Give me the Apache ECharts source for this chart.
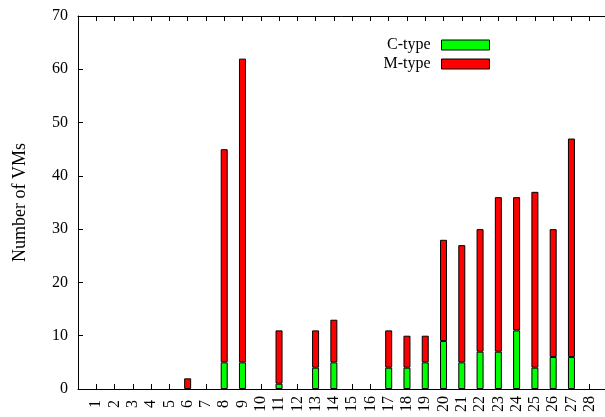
<!DOCTYPE html>
<html>
<head>
<meta charset="utf-8">
<script src="https://cdn.jsdelivr.net/npm/echarts@6/dist/echarts.min.js"></script>
<style>html,body{margin:0;padding:0;background:#fff;}#c{width:605px;height:417px;}</style>
</head>
<body>
<div id="c"></div>
<script>
var categories = ['1','2','3','4','5','6','7','8','9','10','11','12','13','14','15','16','17','18','19','20','21','22','23','24','25','26','27','28'];
var cType = [0,0,0,0,0,0,0,5,5,0,1,0,4,5,0,0,4,4,5,9,5,7,7,11,4,6,6,0];
var mType = [0,0,0,0,0,2,0,40,57,0,10,0,7,8,0,0,7,6,5,19,22,23,29,25,33,24,41,0];
var yTicks = [0,10,20,30,40,50,60,70];

var FONT = 'Liberation Serif';
// pad one empty slot on each side so that the axis runs from 0 to 29
var axisCats = [' '].concat(categories).concat(['  ']);
function items(vals){
  var arr = vals.map(function(v){
    return v === 0 ? {value:0, itemStyle:{borderWidth:0, opacity:0}} : v;
  });
  return ['-'].concat(arr).concat(['-']);
}
var chart = echarts.init(document.getElementById('c'), null, {renderer:'canvas'});
var barStyle = function(color){ return {color: color, borderColor:'#000', borderWidth:1}; };
var xCommon = {
  type:'category', data:axisCats, boundaryGap:false,
  axisLine:{show:true, lineStyle:{color:'#000', width:1}},
  axisTick:{show:true, inside:true, length:5, interval:0, lineStyle:{color:'#000'}},
  splitLine:{show:false}
};
chart.setOption({
  animation:false,
  backgroundColor:'#fff',
  grid:{left:78, top:16, width:530, height:373, outerBoundsMode:'none', containLabel:false},
  legend:{
    orient:'vertical', right:115, top:37, align:'right', padding:0,
    itemWidth:48, itemHeight:10, itemGap:3,
    icon:'rect',
    textStyle:{fontFamily:FONT, fontSize:16, color:'#000', padding:[0,6,0,0]},
    data:[
      {name:'C-type', itemStyle:{color:'#00ff00', borderColor:'#000', borderWidth:1}},
      {name:'M-type', itemStyle:{color:'#ff0000', borderColor:'#000', borderWidth:1}}
    ]
  },
  xAxis:[
    Object.assign({}, xCommon, {position:'bottom',
      axisLabel:{rotate:90, margin:15, interval:0, align:'center', verticalAlign:'middle',
        fontFamily:FONT, fontSize:16, color:'#000'}}),
    Object.assign({}, xCommon, {position:'top', axisLabel:{show:false}})
  ],
  yAxis:{
    type:'value', min:yTicks[0], max:yTicks[yTicks.length-1], interval:10,
    name:'Number of VMs', nameLocation:'middle', nameGap:49, nameRotate:90,
    nameTextStyle:{fontFamily:FONT, fontSize:18, color:'#000'},
    axisLine:{show:true, lineStyle:{color:'#000', width:1}},
    axisTick:{show:true, inside:true, length:5, lineStyle:{color:'#000'}},
    splitLine:{show:false},
    axisLabel:{margin:10, fontFamily:FONT, fontSize:16, color:'#000'}
  },
  series:[
    {name:'C-type', type:'bar', stack:'vm', barWidth:7, data:items(cType), itemStyle:barStyle('#00ff00')},
    {name:'M-type', type:'bar', stack:'vm', barWidth:7, data:items(mType), itemStyle:barStyle('#ff0000')}
  ]
});
</script>
</body>
</html>
